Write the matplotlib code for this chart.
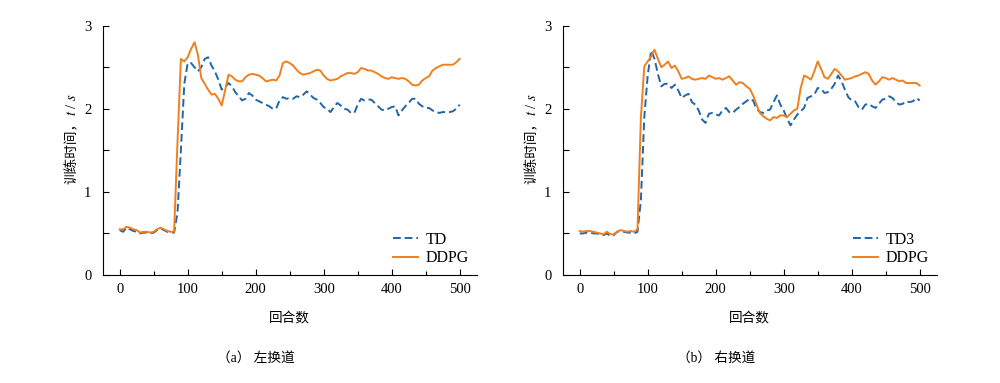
import numpy as np
import matplotlib
matplotlib.use("Agg")
import matplotlib.pyplot as plt
from matplotlib.ticker import MultipleLocator, FuncFormatter

plt.rcParams["font.family"] = ["Liberation Serif", "Noto Sans CJK SC", "DejaVu Sans"]
plt.rcParams["mathtext.fontset"] = "stix"

BLUE = "#2066aa"
ORANGE = "#f07f1e"

episodes = np.arange(0, 501, 5)

# left lane change
left_td = [
    0.54, 0.52, 0.57, 0.55, 0.53, 0.52, 0.50, 0.51, 0.51, 0.50,
    0.51, 0.54, 0.56, 0.54, 0.52, 0.51, 0.51, 0.75, 1.50, 2.30,
    2.55, 2.55, 2.50, 2.45, 2.50, 2.60, 2.62, 2.52, 2.45, 2.35,
    2.23, 2.26, 2.31, 2.27, 2.20, 2.15, 2.10, 2.12, 2.19, 2.16,
    2.11, 2.09, 2.07, 2.05, 2.03, 2.00, 2.00, 2.10, 2.14, 2.12,
    2.13, 2.12, 2.15, 2.14, 2.17, 2.21, 2.17, 2.13, 2.11, 2.07,
    2.02, 2.00, 1.96, 2.02, 2.07, 2.04, 2.00, 1.99, 1.95, 1.95,
    2.05, 2.12, 2.10, 2.11, 2.11, 2.07, 2.03, 1.99, 1.98, 2.00,
    2.02, 2.03, 1.92, 1.98, 2.03, 2.07, 2.12, 2.12, 2.06, 2.03,
    2.01, 2.01, 1.98, 1.96, 1.95, 1.96, 1.96, 1.96, 1.97, 2.00,
    2.05,
]
left_ddpg = [
    0.55, 0.55, 0.58, 0.57, 0.55, 0.54, 0.51, 0.52, 0.52, 0.51,
    0.52, 0.55, 0.57, 0.55, 0.53, 0.52, 0.52, 1.60, 2.60, 2.57,
    2.62, 2.72, 2.80, 2.65, 2.37, 2.30, 2.23, 2.17, 2.18, 2.12,
    2.04, 2.22, 2.41, 2.39, 2.35, 2.33, 2.33, 2.38, 2.41, 2.42,
    2.41, 2.40, 2.37, 2.33, 2.34, 2.35, 2.34, 2.40, 2.55, 2.57,
    2.55, 2.52, 2.47, 2.43, 2.41, 2.42, 2.43, 2.45, 2.47, 2.46,
    2.40, 2.36, 2.34, 2.35, 2.36, 2.39, 2.41, 2.43, 2.43, 2.42,
    2.44, 2.49, 2.48, 2.46, 2.46, 2.44, 2.42, 2.39, 2.37, 2.36,
    2.38, 2.37, 2.36, 2.37, 2.36, 2.33, 2.29, 2.28, 2.29, 2.34,
    2.37, 2.39, 2.46, 2.49, 2.51, 2.53, 2.53, 2.53, 2.53, 2.56,
    2.60,
]

# right lane change
right_td3 = [
    0.50, 0.50, 0.51, 0.51, 0.50, 0.50, 0.49, 0.48, 0.50, 0.47,
    0.48, 0.52, 0.53, 0.52, 0.51, 0.51, 0.50, 0.52, 0.90, 1.90,
    2.40, 2.70, 2.60, 2.42, 2.27, 2.30, 2.30, 2.25, 2.29, 2.22,
    2.13, 2.16, 2.18, 2.08, 2.05, 1.98, 1.87, 1.83, 1.94, 1.95,
    1.93, 1.92, 1.98, 2.01, 1.96, 1.95, 1.99, 2.02, 2.06, 2.09,
    2.12, 2.10, 2.00, 1.96, 1.95, 1.98, 1.99, 2.08, 2.16, 2.05,
    1.98, 1.88, 1.80, 1.87, 1.93, 1.97, 2.01, 2.13, 2.15, 2.17,
    2.25, 2.24, 2.19, 2.20, 2.24, 2.30, 2.40, 2.33, 2.23, 2.14,
    2.10, 2.09, 2.02, 1.99, 2.05, 2.06, 2.03, 2.01, 2.06, 2.11,
    2.12, 2.15, 2.13, 2.08, 2.05, 2.06, 2.09, 2.08, 2.09, 2.13,
    2.10,
]
right_ddpg = [
    0.53, 0.52, 0.53, 0.53, 0.52, 0.51, 0.50, 0.49, 0.52, 0.49,
    0.49, 0.52, 0.54, 0.53, 0.52, 0.53, 0.52, 0.55, 1.90, 2.51,
    2.57, 2.63, 2.71, 2.60, 2.50, 2.53, 2.57, 2.49, 2.52, 2.45,
    2.36, 2.37, 2.39, 2.36, 2.35, 2.36, 2.37, 2.36, 2.40, 2.38,
    2.36, 2.37, 2.35, 2.37, 2.39, 2.34, 2.29, 2.32, 2.31, 2.27,
    2.24, 2.16, 2.05, 1.95, 1.91, 1.88, 1.86, 1.90, 1.89, 1.92,
    1.92, 1.90, 1.94, 1.98, 2.00, 2.25, 2.40, 2.38, 2.35, 2.45,
    2.57, 2.48, 2.38, 2.36, 2.42, 2.48, 2.45, 2.40, 2.35, 2.36,
    2.37, 2.39, 2.40, 2.42, 2.44, 2.42, 2.34, 2.29, 2.33, 2.38,
    2.37, 2.35, 2.37, 2.35, 2.33, 2.34, 2.31, 2.31, 2.31, 2.31,
    2.28,
]

panels = [
    (left_td, "TD", left_ddpg, "（a） 左换道", 0.256),
    (right_td3, "TD3", right_ddpg, "（b） 右换道", 0.716),
]

fig = plt.figure(figsize=(10, 3.83), dpi=100)
ax_left = [0.1027, 0.5627]

for (td, td_name, ddpg, caption, cap_x), x0 in zip(panels, ax_left):
    ax = fig.add_axes([x0, 0.282, 0.374, 0.651])
    ax.plot(episodes, td, color=BLUE, lw=1.4, ls=(0, (4, 2)), label=td_name)
    ax.plot(episodes, ddpg, color=ORANGE, lw=1.4, label="DDPG")
    ax.set_xlim(-25, 525)
    ax.set_ylim(0, 3)
    ax.xaxis.set_major_locator(MultipleLocator(100))
    ax.xaxis.set_minor_locator(MultipleLocator(50))
    ax.yaxis.set_major_locator(MultipleLocator(0.5))
    ax.yaxis.set_major_formatter(
        FuncFormatter(lambda v, p: f"{v:.0f}" if abs(v - round(v)) < 1e-6 else ""))
    ax.tick_params(direction="in", labelsize=10.5, length=4, width=0.8)
    ax.tick_params(axis="y", pad=8)
    ax.tick_params(axis="x", pad=6)
    ax.tick_params(which="minor", direction="in", length=3, width=0.8)
    for side in ("top", "right"):
        ax.spines[side].set_visible(False)
    for side in ("left", "bottom"):
        ax.spines[side].set_linewidth(0.8)
    ax.set_xlabel("回合数", fontsize=9.8, labelpad=11)

    # y label: CJK part + italic t / s stacked above it
    ylab = ax.text(-0.082, 0.5, "训练时间，", rotation=90, transform=ax.transAxes,
                   ha="center", va="center", fontsize=9.8,
                   family=["Noto Sans CJK SC", "DejaVu Sans"])
    ax.annotate("$t$ / $s$", xy=(0.5, 1.0), xycoords=ylab, rotation=90,
                ha="center", va="bottom", fontsize=10.5)

    ax.legend(loc="lower left", bbox_to_anchor=(0.776, 0.035), frameon=False,
              fontsize=11.5, handlelength=1.6, handletextpad=0.45,
              labelspacing=0.15, borderaxespad=0, borderpad=0)
    fig.text(cap_x, 0.065, caption, ha="center", va="center", fontsize=9.8)

fig.savefig("out.png", dpi=100)
